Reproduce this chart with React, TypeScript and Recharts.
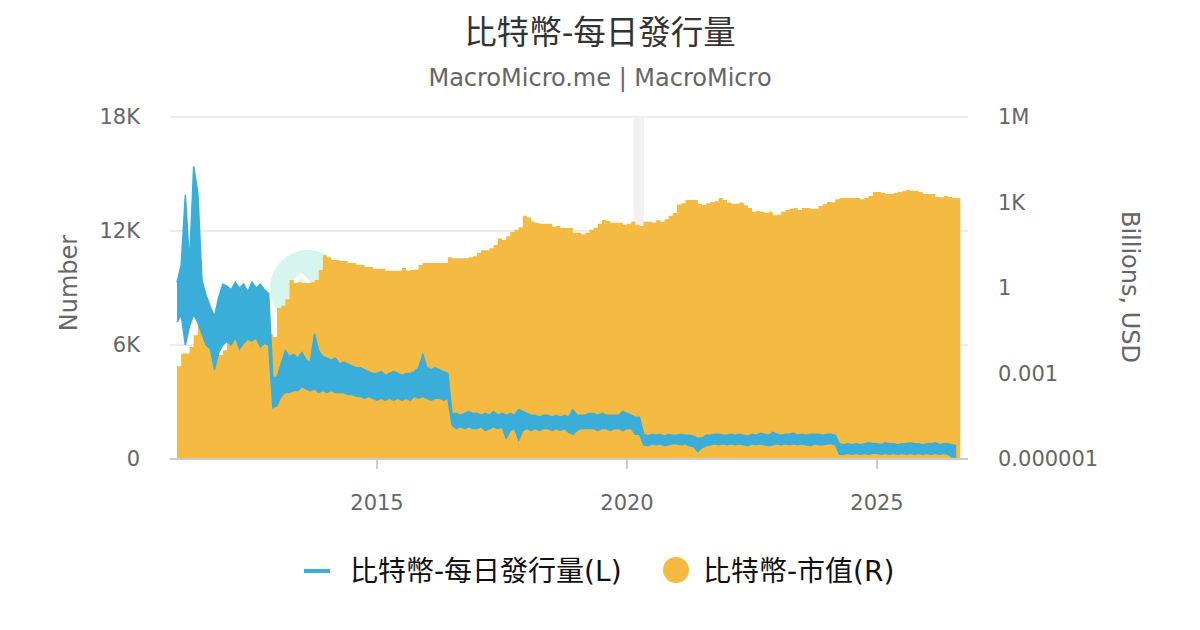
import React from "react";
import {
    ComposedChart,
    Area,
    XAxis,
    YAxis,
    CartesianGrid,
    ReferenceArea,
    ReferenceDot,
} from "recharts";

const FONT = '"DejaVu Sans", "Noto Sans CJK TC", sans-serif';
const BLUE = "#3aaed8";
const ORANGE = "#f5ba42";

// monthly values, Jan 2011 .. Aug 2026
const FIRST_YEAR = 2011;

// market cap, billions USD (right axis, log)
const capBillions = [
    0.0018, 0.005, 0.005, 0.0085, 0.022, 0.11, 0.06, 0.015, 0.01, 0.0066, 0.0045, 0.0066, // 2011
    0.019, 0.019, 0.022, 0.022, 0.029, 0.029, 0.033, 0.033, 0.033, 0.029, 0.025, 0.019, // 2012
    0.2, 0.24, 0.4, 1.9, 1.5, 1.6, 1.5, 1.5, 1.6, 1.9, 4.3, 14, // 2013
    12, 9.6, 9.6, 8.9, 8.9, 7.6, 7.6, 6.5, 6.5, 5.5, 5.5, 4.7, // 2014
    4.7, 4.7, 4.0, 4.0, 4.0, 4.0, 5.0, 4.0, 4.3, 4.5, 6.5, 7.6, // 2015
    7.6, 7.6, 7.6, 7.6, 7.6, 12, 11, 11, 11, 11, 12, 13, // 2016
    17, 21, 21, 25, 32, 55, 48, 65, 92, 110, 135, 340, // 2017
    300, 210, 190, 178, 178, 178, 140, 150, 128, 128, 128, 86, // 2018
    86, 75, 86, 110, 130, 178, 245, 225, 195, 195, 195, 165, // 2019
    180, 210, 165, 150, 210, 210, 200, 240, 210, 260, 340, 430, // 2020
    850, 950, 1230, 1230, 1230, 900, 820, 950, 1050, 1100, 1450, 1230, // 2021
    1000, 900, 900, 1000, 800, 640, 470, 500, 470, 430, 470, 360, // 2022
    370, 470, 550, 600, 640, 550, 640, 640, 600, 600, 760, 900, // 2023
    1050, 1000, 1300, 1450, 1450, 1450, 1450, 1450, 1300, 1450, 1700, 2350, // 2024
    2350, 2150, 2000, 2000, 2150, 2350, 2500, 2740, 2600, 2600, 2350, 2000, // 2025
    2000, 2000, 1550, 1500, 1700, 1550, 1450, 1450, // 2026
];

// daily issuance range within each month (left axis)
const issuanceLow = [
    7200, 7600, 6000, 7000, 7600, 7200, 6600, 6000, 5800, 4700, 5600, 6000, // 2011
    6200, 6000, 6400, 5800, 6100, 6300, 6200, 6400, 5900, 6100, 6000, 2700, // 2012
    2800, 3300, 3500, 3500, 3600, 3600, 3800, 3700, 3600, 3700, 3500, 3600, // 2013
    3500, 3600, 3500, 3500, 3500, 3400, 3400, 3300, 3300, 3200, 3300, 3200, // 2014
    3100, 3200, 3100, 3200, 3100, 3200, 3100, 3200, 3100, 3300, 3200, 3300, // 2015
    3200, 3100, 3200, 3200, 3100, 3200, 1800, 1600, 1700, 1600, 1700, 1600, // 2016
    1600, 1700, 1500, 1600, 1700, 1600, 1700, 1100, 1500, 1600, 1000, 1500, // 2017
    1600, 1500, 1600, 1500, 1600, 1600, 1500, 1600, 1500, 1600, 1400, 1300, // 2018
    1500, 1600, 1600, 1600, 1600, 1500, 1600, 1600, 1500, 1600, 1600, 1500, // 2019
    1600, 1600, 1300, 1300, 750, 700, 800, 750, 800, 700, 750, 800, // 2020
    800, 750, 800, 700, 650, 400, 600, 700, 750, 800, 750, 800, // 2021
    750, 800, 750, 800, 750, 700, 800, 750, 800, 750, 700, 750, // 2022
    800, 750, 800, 750, 800, 750, 800, 750, 700, 800, 750, 750, // 2023
    800, 800, 750, 250, 250, 300, 250, 300, 250, 300, 250, 300, // 2024
    300, 250, 300, 250, 300, 250, 300, 250, 300, 250, 300, 250, // 2025
    300, 250, 300, 250, 300, 250, 100, 100, // 2026
];

const issuanceHigh = [
    9300, 10200, 13900, 10300, 15400, 14000, 9400, 8600, 8000, 7500, 8500, 9200, // 2011
    9100, 8900, 9300, 9000, 9200, 8800, 9300, 9000, 9200, 8900, 8700, 4300, // 2012
    4300, 5000, 5700, 5400, 5500, 5300, 5600, 5200, 5100, 6600, 5700, 5400, // 2013
    5300, 5200, 5300, 5000, 5100, 5000, 4900, 4800, 4800, 4700, 4600, 4500, // 2014
    4500, 4600, 4400, 4500, 4600, 4500, 4400, 4500, 4500, 4600, 4800, 5500, // 2015
    4800, 4700, 4800, 4700, 4600, 4500, 2400, 2400, 2300, 2400, 2500, 2400, // 2016
    2400, 2300, 2400, 2300, 2500, 2300, 2400, 2300, 2400, 2300, 2600, 2500, // 2017
    2400, 2300, 2300, 2200, 2300, 2300, 2200, 2300, 2200, 2300, 2200, 2600, // 2018
    2300, 2300, 2300, 2400, 2400, 2300, 2400, 2300, 2300, 2300, 2300, 2500, // 2019
    2400, 2300, 2200, 2200, 1300, 1200, 1300, 1250, 1300, 1200, 1300, 1250, // 2020
    1250, 1300, 1250, 1250, 1200, 1100, 1100, 1250, 1250, 1300, 1300, 1250, // 2021
    1250, 1300, 1250, 1300, 1250, 1200, 1300, 1250, 1350, 1300, 1250, 1400, // 2022
    1300, 1250, 1300, 1300, 1350, 1250, 1300, 1250, 1300, 1300, 1300, 1250, // 2023
    1300, 1300, 1250, 800, 750, 800, 750, 800, 750, 800, 850, 800, // 2024
    800, 750, 850, 800, 800, 750, 800, 800, 850, 800, 800, 750, // 2025
    800, 800, 850, 750, 800, 800, 750, 700, // 2026
];

const yearTicks = [2015, 2020, 2025];
const issuanceTicks = [0, 6000, 12000, 18000];
const issuanceTickLabels = ["0", "6K", "12K", "18K"];
const capTicks = [0.000001, 0.001, 1, 1000, 1000000];
const capTickLabels = ["0.000001", "0.001", "1", "1K", "1M"];

// covid recession shading
const recession = { from: 2020.13, to: 2020.34 };

const rows: any[] = capBillions.map((cap, i) => ({
    t: FIRST_YEAR + i / 12,
    cap,
    issuance: [issuanceLow[i], issuanceHigh[i]],
}));
// close the last monthly column
rows.push({
    t: FIRST_YEAR + capBillions.length / 12,
    cap: capBillions[capBillions.length - 1],
    issuance: null,
});

// site logo watermark, sits behind the series
const Watermark = (props: any) => {
    const { cx, cy } = props;
    if (cx == null || cy == null) return null;
    return (
        <g>
            <circle cx={cx} cy={cy} r={38} fill="#d5f5ee" />
            <polyline
                points={`${cx - 17},${cy - 3} ${cx - 7},${cy - 13} ${cx + 3},${cy - 3}`}
                fill="none"
                stroke="#fff"
                strokeWidth={4}
            />
        </g>
    );
};

const App = () => {
    return (
        <div style={{ position: "relative", width: 1200, height: 630, background: "#fff", fontFamily: FONT }}>
            <style>{`body{margin:0}`}</style>
            <ComposedChart
                width={1200}
                height={630}
                data={rows}
                margin={{ top: 117, right: 92, bottom: 111, left: 70 }}
            >
                <CartesianGrid yAxisId="L" vertical={false} stroke="#e6e6e6" strokeWidth={1.5} />
                <XAxis
                    dataKey="t"
                    type="number"
                    domain={[2010.86, 2026.82]}
                    allowDataOverflow
                    ticks={yearTicks}
                    height={60}
                    tickSize={10}
                    tickMargin={26}
                    axisLine={{ stroke: "#cccccc", strokeWidth: 2 }}
                    tickLine={{ stroke: "#cccccc", strokeWidth: 2 }}
                    tick={{ fill: "#666", fontSize: 21, fontFamily: FONT }}
                />
                <YAxis
                    yAxisId="L"
                    domain={[0, 18000]}
                    allowDataOverflow
                    ticks={issuanceTicks}
                    tickFormatter={(v: number) => issuanceTickLabels[issuanceTicks.indexOf(v)]}
                    width={100}
                    axisLine={false}
                    tickLine={false}
                    tickSize={0}
                    tickMargin={30}
                    tick={{ fill: "#666", fontSize: 21, fontFamily: FONT }}
                />
                <YAxis
                    yAxisId="R"
                    orientation="right"
                    scale="log"
                    domain={[0.000001, 1000000]}
                    allowDataOverflow
                    ticks={capTicks}
                    tickFormatter={(v: number) => capTickLabels[capTicks.indexOf(v)]}
                    width={140}
                    axisLine={false}
                    tickLine={false}
                    tickSize={0}
                    tickMargin={30}
                    tick={{ fill: "#666", fontSize: 21, fontFamily: FONT }}
                />
                <ReferenceArea
                    yAxisId="L"
                    x1={recession.from}
                    x2={recession.to}
                    fill="#f1f1f1"
                    fillOpacity={1}
                    stroke="none"
                />
                <ReferenceDot
                    yAxisId="L"
                    x={2013.62}
                    y={9000}
                    r={38}
                    shape={Watermark}
                    zIndex={-10}
                />
                <Area
                    yAxisId="R"
                    dataKey="cap"
                    type="stepAfter"
                    baseValue={0.000001}
                    stroke="none"
                    fill={ORANGE}
                    fillOpacity={1}
                    dot={false}
                    activeDot={false}
                    isAnimationActive={false}
                />
                <Area
                    yAxisId="L"
                    dataKey="issuance"
                    type="linear"
                    stroke={BLUE}
                    strokeWidth={1.5}
                    fill={BLUE}
                    fillOpacity={1}
                    dot={false}
                    activeDot={false}
                    isAnimationActive={false}
                />
            </ComposedChart>
            <svg
                width={1200}
                height={630}
                style={{ position: "absolute", left: 0, top: 0, pointerEvents: "none" }}
                fontFamily={FONT}
            >
                <text x={600} y={44} textAnchor="middle" fontSize={32.5} fill="#333">
                    比特幣-每日發行量
                </text>
                <text x={600} y={86} textAnchor="middle" fontSize={24} fill="#666">
                    MacroMicro.me | MacroMicro
                </text>
                <text transform="translate(77,283) rotate(-90)" textAnchor="middle" fontSize={24} fill="#666">
                    Number
                </text>
                <text transform="translate(1122,287) rotate(90)" textAnchor="middle" fontSize={24} fill="#666">
                    Billions, USD
                </text>
                <line x1={304} y1={571} x2={330} y2={571} stroke={BLUE} strokeWidth={4} />
                <text x={350} y={581} fontSize={28} fill="#111">
                    比特幣-每日發行量(L)
                </text>
                <circle cx={676} cy={570} r={13} fill={ORANGE} />
                <text x={703} y={581} fontSize={28} fill="#111">
                    比特幣-市值(R)
                </text>
            </svg>
        </div>
    );
};

export default App;
